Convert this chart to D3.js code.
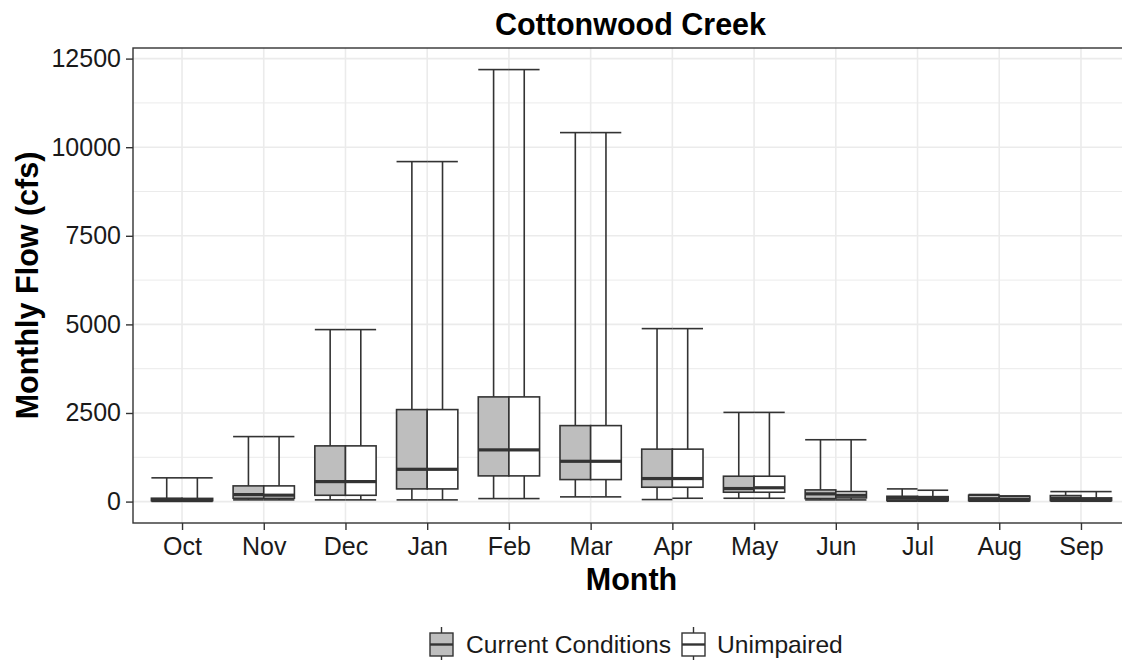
<!DOCTYPE html>
<html>
<head>
<meta charset="utf-8">
<script src="https://cdn.jsdelivr.net/npm/d3@7"></script>
<style>
  html, body { margin: 0; padding: 0; background: #fff; }
  svg { display: block; font-family: "Liberation Sans", Arial, sans-serif; }
</style>
</head>
<body>
<svg id="chart" width="1122" height="660"></svg>
<script>
// ---- Data ----
const months = ["Oct","Nov","Dec","Jan","Feb","Mar","Apr","May","Jun","Jul","Aug","Sep"];
const seriesNames = ["Current Conditions", "Unimpaired"];
const seriesFill = ["#bebebe", "#ffffff"];

// five-number summaries: [low whisker, q1, median, q3, high whisker]
const currentStats = [
  [5, 25, 55, 95, 670],
  [48, 93, 198, 443, 1834],
  [48, 178, 564, 1572, 4853],
  [48, 358, 911, 2596, 9594],
  [85, 725, 1459, 2954, 12190],
  [133, 621, 1137, 2144, 10412],
  [57, 405, 650, 1480, 4881],
  [94, 264, 368, 716, 2517],
  [47, 85, 218, 330, 1745],
  [10, 28, 94, 150, 358],
  [10, 25, 80, 180, 200],
  [10, 28, 90, 170, 282]
];
const unimpairedStats = [
  [5, 25, 55, 90, 670],
  [48, 93, 180, 443, 1834],
  [48, 178, 564, 1572, 4853],
  [48, 358, 911, 2596, 9594],
  [85, 725, 1459, 2954, 12190],
  [133, 621, 1137, 2144, 10412],
  [94, 405, 650, 1480, 4881],
  [94, 264, 390, 716, 2517],
  [47, 104, 178, 283, 1745],
  [10, 28, 90, 140, 320],
  [10, 25, 70, 150, 160],
  [10, 28, 60, 104, 282]
];
const yTicks = [0, 2500, 5000, 7500, 10000, 12500];
const yMinorTicks = [1250, 3750, 6250, 8750, 11250];

// ---- Layout ----
const svg = d3.select("#chart");
const panel = { left: 133, right: 1130, top: 48, bottom: 523 };
const ink = "#333333";

const allStats = [currentStats, unimpairedStats];
const dataMin = d3.min(allStats.flat().flat());
const dataMax = d3.max(allStats.flat().flat());
const pad = (dataMax - dataMin) * 0.05;

const x = d3.scalePoint().domain(months).range([panel.left, panel.right]).padding(0.6);
const step = x.step();
const y = d3.scaleLinear().domain([dataMin - pad, dataMax + pad]).range([panel.bottom, panel.top]);

const boxW = step * 0.375;
const offsets = [-boxW / 2, boxW / 2];

// clip
svg.append("defs").append("clipPath").attr("id", "clip")
  .append("rect").attr("x", panel.left).attr("y", panel.top)
  .attr("width", panel.right - panel.left).attr("height", panel.bottom - panel.top);

const grid = svg.append("g").attr("clip-path", "url(#clip)");
grid.selectAll(".ymin").data(yMinorTicks).join("line")
  .attr("x1", panel.left).attr("x2", panel.right)
  .attr("y1", d => y(d)).attr("y2", d => y(d))
  .attr("stroke", "#ebebeb").attr("stroke-width", 1);
grid.selectAll(".ymaj").data(yTicks).join("line")
  .attr("x1", panel.left).attr("x2", panel.right)
  .attr("y1", d => y(d)).attr("y2", d => y(d))
  .attr("stroke", "#ebebeb").attr("stroke-width", 1.6);
grid.selectAll(".xmaj").data(months).join("line")
  .attr("x1", d => x(d)).attr("x2", d => x(d))
  .attr("y1", panel.top).attr("y2", panel.bottom)
  .attr("stroke", "#ebebeb").attr("stroke-width", 1.6);

const plot = svg.append("g").attr("clip-path", "url(#clip)");

// error bars (whiskers + caps) first
allStats.forEach((stats, si) => {
  const g = plot.append("g");
  stats.forEach((s, i) => {
    const cx = x(months[i]) + offsets[si];
    const [lo, q1, med, q3, hi] = s;
    g.append("line").attr("x1", cx).attr("x2", cx).attr("y1", y(hi)).attr("y2", y(lo))
      .attr("stroke", ink).attr("stroke-width", 1.6);
    [hi, lo].forEach(v => {
      g.append("line").attr("x1", cx - boxW / 2).attr("x2", cx + boxW / 2)
        .attr("y1", y(v)).attr("y2", y(v))
        .attr("stroke", ink).attr("stroke-width", 1.6);
    });
  });
});

// boxes
allStats.forEach((stats, si) => {
  const g = plot.append("g");
  stats.forEach((s, i) => {
    const cx = x(months[i]) + offsets[si];
    const [lo, q1, med, q3, hi] = s;
    g.append("rect").attr("x", cx - boxW / 2).attr("width", boxW)
      .attr("y", y(q3)).attr("height", Math.max(0, y(q1) - y(q3)))
      .attr("fill", seriesFill[si]).attr("stroke", ink).attr("stroke-width", 1.6);
    g.append("line").attr("x1", cx - boxW / 2).attr("x2", cx + boxW / 2)
      .attr("y1", y(med)).attr("y2", y(med))
      .attr("stroke", ink).attr("stroke-width", 3.2);
  });
});

// panel border
svg.append("rect").attr("x", panel.left).attr("y", panel.top)
  .attr("width", panel.right - panel.left).attr("height", panel.bottom - panel.top)
  .attr("fill", "none").attr("stroke", ink).attr("stroke-width", 1.4);

// axes
const yAxis = svg.append("g").attr("transform", `translate(${panel.left},0)`)
  .call(d3.axisLeft(y).tickValues(yTicks).tickSize(7).tickPadding(5).tickFormat(d3.format("d")));
const xAxis = svg.append("g").attr("transform", `translate(0,${panel.bottom})`)
  .call(d3.axisBottom(x).tickSize(7).tickPadding(4));
[yAxis, xAxis].forEach(a => {
  a.select(".domain").remove();
  a.selectAll(".tick line").attr("stroke", ink).attr("stroke-width", 1.4);
  a.selectAll(".tick text").attr("fill", "#1a1a1a")
    .style("font-size", "25px").style("font-family", "Liberation Sans, Arial, sans-serif");
});
xAxis.selectAll(".tick text").attr("dy", "0.85em");

// titles
svg.append("text").attr("x", (panel.left + panel.right) / 2 - 1).attr("y", 35)
  .attr("text-anchor", "middle").style("font-size", "30.5px").style("font-weight", "bold")
  .text("Cottonwood Creek");
svg.append("text").attr("x", (panel.left + panel.right) / 2).attr("y", 590)
  .attr("text-anchor", "middle").style("font-size", "30.5px").style("font-weight", "bold")
  .text("Month");
svg.append("text")
  .attr("transform", `translate(38,${(panel.top + panel.bottom) / 2}) rotate(-90)`)
  .attr("text-anchor", "middle").style("font-size", "30.5px").style("font-weight", "bold")
  .text("Monthly Flow (cfs)");

// legend
const legend = svg.append("g");
const legendItems = [
  { name: seriesNames[0], fill: seriesFill[0], kx: 430, tx: 466 },
  { name: seriesNames[1], fill: seriesFill[1], kx: 682, tx: 717 }
];
legendItems.forEach(it => {
  const g = legend.append("g");
  const kw = 23, top = 633, bot = 656, cx = it.kx + kw / 2;
  g.append("line").attr("x1", cx).attr("x2", cx).attr("y1", 627).attr("y2", 662)
    .attr("stroke", ink).attr("stroke-width", 1.4);
  g.append("rect").attr("x", it.kx).attr("y", top).attr("width", kw).attr("height", bot - top)
    .attr("fill", it.fill).attr("stroke", ink).attr("stroke-width", 1.4);
  g.append("line").attr("x1", it.kx).attr("x2", it.kx + kw).attr("y1", 644.5).attr("y2", 644.5)
    .attr("stroke", ink).attr("stroke-width", 2.4);
  g.append("text").attr("x", it.tx).attr("y", 653).style("font-size", "24.6px")
    .attr("fill", "#1a1a1a").text(it.name);
});
</script>
</body>
</html>
